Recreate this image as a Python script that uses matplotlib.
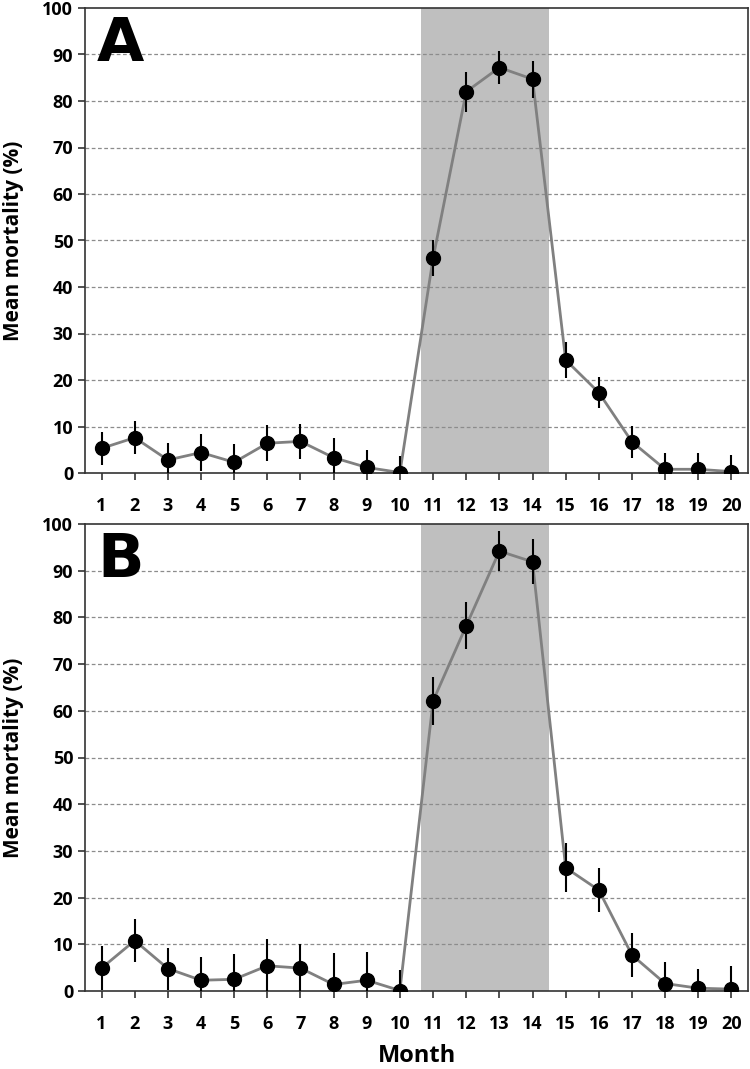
import numpy as np
import matplotlib
matplotlib.use('Agg')
import matplotlib.pyplot as plt

# 月份
months = np.arange(1, 21)

# 图A：平均死亡率及误差
mort_a = [5.3, 7.6, 2.8, 4.4, 2.3, 6.4, 6.8, 3.3, 1.2, 0.1,
          46.2, 82.0, 87.2, 84.7, 24.3, 17.3, 6.7, 0.8, 0.8, 0.3]
err_a = [3.6, 3.6, 3.7, 3.9, 3.9, 3.9, 3.8, 4.3, 3.7, 3.6,
         3.8, 4.3, 3.6, 4.0, 3.8, 3.4, 3.5, 3.5, 3.6, 3.5]

# 图B
mort_b = [4.9, 10.8, 4.8, 2.3, 2.5, 5.4, 4.9, 1.4, 2.3, 0.1,
          62.1, 78.2, 94.2, 91.9, 26.4, 21.6, 7.7, 1.6, 0.6, 0.4]
err_b = [4.7, 4.6, 4.5, 5.0, 5.4, 5.7, 5.1, 6.7, 6.1, 4.3,
         5.2, 5.0, 4.2, 4.8, 5.2, 4.7, 4.7, 4.7, 4.1, 5.0]

shade_span = (10.65, 14.5)
panel_labels = ['A', 'B']

plt.rcParams['font.family'] = ['Open Sans', 'DejaVu Sans']
plt.rcParams['font.weight'] = 'bold'

fig = plt.figure(figsize=(7.5, 10.69), dpi=100)
ax_a = fig.add_axes([85 / 750, 1 - 473 / 1069, 663 / 750, 465 / 1069])
ax_b = fig.add_axes([85 / 750, 1 - 991 / 1069, 663 / 750, 467 / 1069])

for ax, y, e, lab in zip([ax_a, ax_b], [mort_a, mort_b], [err_a, err_b], panel_labels):
    ax.axvspan(*shade_span, color='#bfbfbf', zorder=0, lw=0)
    for g in range(10, 100, 10):
        ax.axhline(g, color='#8c8c8c', lw=0.9, ls=(0, (3, 2)), zorder=1)
    ax.plot(months, y, color='#808080', lw=2, zorder=2)
    ax.errorbar(months, y, yerr=e, fmt='o', color='black', ms=10,
                ecolor='black', elinewidth=1.5, capsize=0, zorder=3)
    ax.set_xlim(0.5, 20.5)
    ax.set_ylim(0, 100)
    ax.set_xticks(months)
    ax.set_yticks(range(0, 101, 10))
    ax.tick_params(axis='both', direction='out', length=5, width=1.2,
                   labelsize=13, color='#333333')
    ax.tick_params(axis='x', pad=12)
    for t in ax.get_xticklabels() + ax.get_yticklabels():
        t.set_fontweight('bold')
    for s in ax.spines.values():
        s.set_color('#333333')
        s.set_linewidth(1.2)
    ax.set_ylabel('Mean mortality (%)', fontsize=15, fontweight='bold')
    ax.yaxis.set_label_coords(-0.092, 0.5)
    ax.text(0.018, 0.985, lab, transform=ax.transAxes, fontsize=44,
            fontweight='heavy', family='DejaVu Sans', va='top', ha='left')

ax_b.set_xlabel('Month', fontsize=17, fontweight='bold', labelpad=8)

fig.savefig('out.png', dpi=100)
